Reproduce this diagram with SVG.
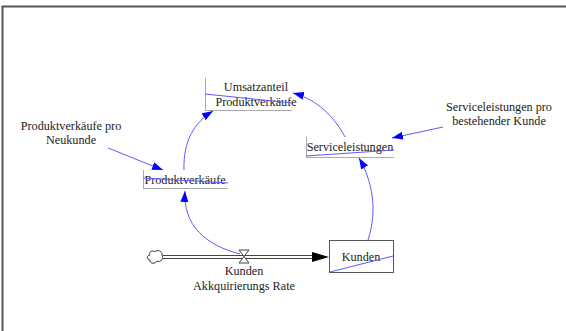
<svg xmlns="http://www.w3.org/2000/svg" width="566" height="331" viewBox="0 0 566 331">
<style>
text{font-family:"Liberation Serif","Times New Roman",serif;font-size:12.2px;fill:#222;text-anchor:middle}
.lnk{fill:none;stroke:#5a5aff;stroke-width:1}
.box{fill:none;stroke:#aaa;stroke-width:1}
.strike{stroke:#5a5aff;stroke-width:1;fill:none}
</style>
<defs>
<marker id="ah" markerUnits="userSpaceOnUse" markerWidth="12" markerHeight="10" refX="11" refY="4" orient="auto">
<path d="M0,0 L11,4 L0,8 Z" fill="#0000ff"/>
</marker>
</defs>
<rect width="566" height="331" fill="#fff"/>
<path d="M2.5,331 V6.5 H566" fill="none" stroke="#555" stroke-width="2"/>

<g id="connectors">
<path class="lnk" d="M240,254 C205,245 183,225 185,191" marker-end="url(#ah)"/>
<path class="lnk" d="M184,170 C183,140 195,122 213,111" marker-end="url(#ah)"/>
<path class="lnk" d="M345,137 C332,112 312,98 293,93" marker-end="url(#ah)"/>
<path class="lnk" d="M368,240 C378,210 372,180 359,158" marker-end="url(#ah)"/>
<path class="lnk" d="M108,148 L163,170" marker-end="url(#ah)"/>
<path class="lnk" d="M443,127 L392,138" marker-end="url(#ah)"/>
</g>

<g id="flow">
<path d="M163,255.5 H314 M163,258.5 H314" stroke="#444" stroke-width="1"/>
<path d="M312,252 L329,257 L312,262 Z" fill="#000"/>
<path d="M239,250 H249 L239,263 H249 Z" fill="#fff" stroke="#444" stroke-width="1"/>
<text x="244" y="275">Kunden</text>
<text x="244" y="290">Akkquirierungs Rate</text>
</g>

<g id="cloud">
<path d="M150,255 C148,251 154,250 155,252 C157,249 163,251 162,255 C164,258 161,263 157,261 C155,265 149,263 150,260 C146,259 147,255 150,255 Z" fill="#fff" stroke="#333" stroke-width="1"/>
</g>

<g id="kunden">
<rect x="329.5" y="240.5" width="64" height="32" fill="#fff" stroke="#555" stroke-width="1"/>
<text x="361" y="261">Kunden</text>
<path class="strike" d="M330,272 L393,256"/>
</g>

<g id="umsatzanteil">
<path class="box" d="M205.5,78 V110.5 H292"/>
<text x="256" y="91">Umsatzanteil</text>
<text x="256" y="106">Produktverkäufe</text>
<path class="strike" d="M205,94 L292,103"/>
</g>

<g id="serviceleistungen">
<path class="box" d="M306.5,137 V157.5 H394"/>
<text x="350" y="151">Serviceleistungen</text>
<path class="strike" d="M306,156 L394,150"/>
</g>

<g id="produktverkaeufe">
<path class="box" d="M143.5,170 V188.5 H228"/>
<text x="185" y="184">Produktverkäufe</text>
<path class="strike" d="M143,178 L228,183"/>
</g>

<g id="pro_neukunde">
<text x="71" y="130">Produktverkäufe pro</text>
<text x="71" y="144">Neukunde</text>
</g>

<g id="pro_bestehender">
<text x="499" y="111">Serviceleistungen pro</text>
<text x="499" y="125">bestehender Kunde</text>
</g>
</svg>
